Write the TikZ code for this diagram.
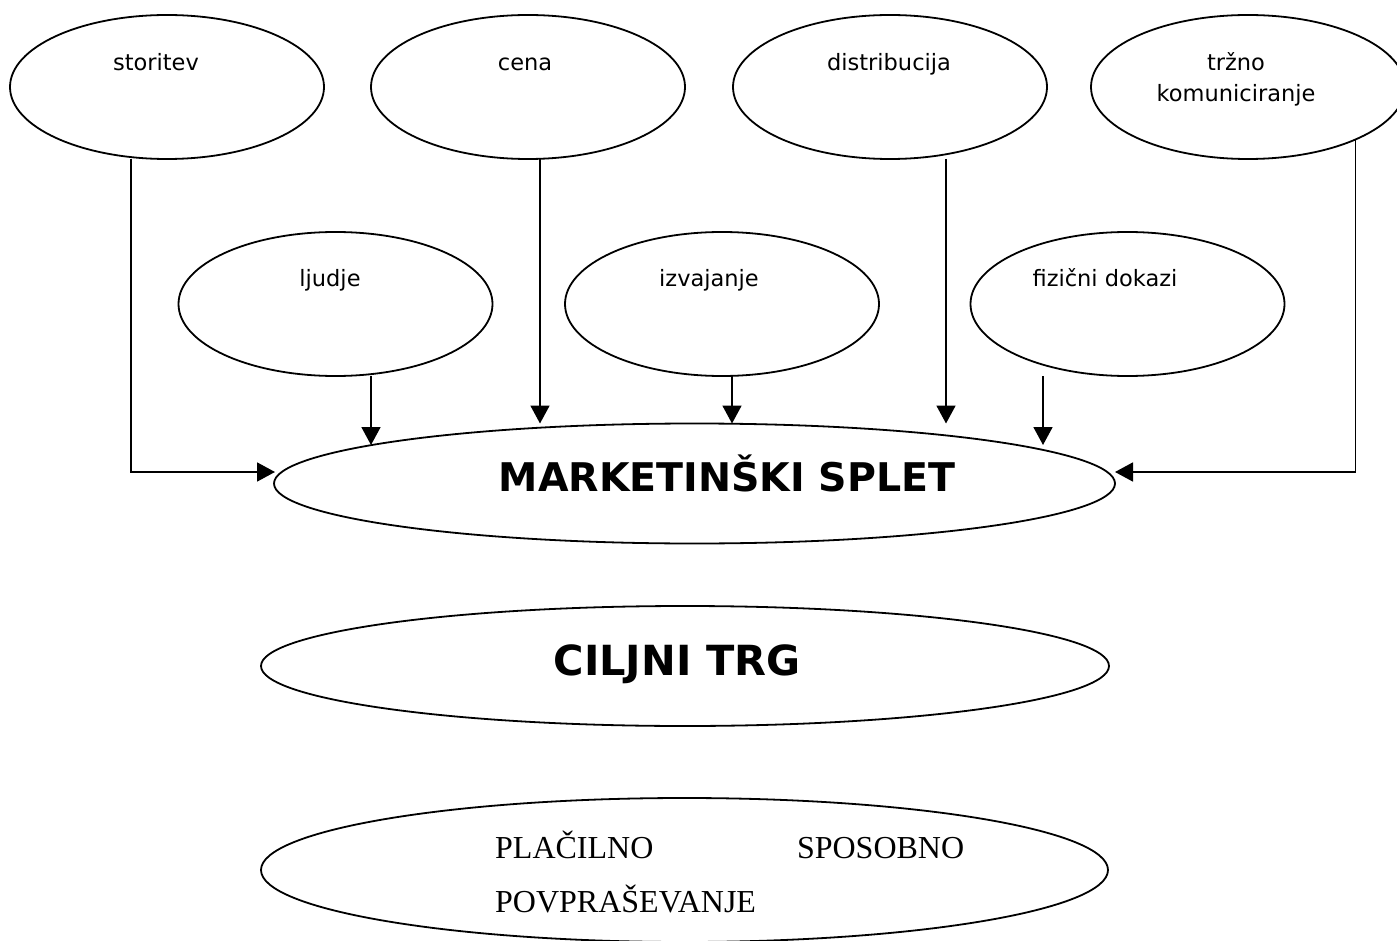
\documentclass[tikz,border=0pt]{standalone}
\usepackage{fontspec}
\usetikzlibrary{shapes.geometric,arrows.meta,calc}
\newfontfamily\labelfont{DejaVu Sans}
\newfontfamily\bodyfont{Liberation Serif}
\begin{document}
\begin{tikzpicture}[x=1pt,y=-1pt,
  oval/.style={ellipse,draw,line width=1.8pt,inner sep=0pt,outer sep=0pt},
  small/.style={oval,minimum width=314pt,minimum height=144pt},
  lab/.style={inner sep=0pt,anchor=base,font=\labelfont\fontsize{22.5}{31}\selectfont},
  big/.style={inner sep=0pt,anchor=base,font=\labelfont\bfseries\fontsize{39.5}{44}\selectfont},
  arr/.style={line width=1.8pt,-{Triangle[length=18pt,width=19pt]}}]
\fill[white] (0,0) rectangle (1397,941);
\useasboundingbox (0,0) rectangle (1397,941);

% four elements of the classic mix
\node[small] (storitev) at (167,87) {};
\node[small] (cena) at (528,87) {};
\node[small] (distribucija) at (890,87) {};
\node[small] (trzno) at (1248,87) {};
\node[lab] (storitevT) at (156,71) {storitev};
\node[lab] (cenaT) at (525,71) {cena};
\node[lab] (distribucijaT) at (889,71) {distribucija};
% multi-line node: base anchor sits on the last line
\node[lab,align=center] (trznoT) at (1236,102) {tržno\\komuniciranje};

% three service elements
\node[small] (ljudje) at (335.5,304) {};
\node[small] (izvajanje) at (722,304) {};
\node[small] (dokazi) at (1127.5,304) {};
\node[lab] (ljudjeT) at (330,287) {ljudje};
\node[lab] (izvajanjeT) at (709,287) {izvajanje};
\node[lab] (dokaziT) at (1105,287) {fizični dokazi};

% central ovals
\node[oval,minimum width=841pt,minimum height=120pt] (ms) at (694.5,483.5) {};
\node[big] (msT) at (727,491) {MARKETINŠKI SPLET};
\node[oval,minimum width=848pt,minimum height=120pt] (ct) at (685,666) {};
\node[big,font=\labelfont\bfseries\fontsize{41.5}{46}\selectfont] (ctT) at (677,675) {CILJNI TRG};
\node[oval,minimum width=847pt,minimum height=144pt] (pp) at (684.5,870) {};
\node[inner sep=0pt,anchor=base west,align=left,
      font=\bodyfont\fontsize{32}{54}\selectfont] (ppT) at (495,912)
  {\hbox to 469pt{PLAČILNO\hfill SPOSOBNO}\\POVPRAŠEVANJE};

% arrow ends on the marketing mix oval
\coordinate (msW) at ($(ms.center)+(-419.5,-11.5)$);
\coordinate (msE) at ($(ms.center)+(420.5,-11.5)$);
\coordinate (msA) at ($(ms.center)+(-323.5,-38.5)$);
\coordinate (msB) at ($(ms.center)+(348.5,-38.5)$);

% connectors
\draw[arr] ([xshift=-36pt]storitev.south) |- (msW);
\draw[arr] (trzno.334) |- (msE);
\draw[arr] ([xshift=12pt]cena.south) -- ([xshift=12pt]cena.south |- ms.north);
\draw[arr] ([xshift=56pt]distribucija.south) -- ([xshift=56pt]distribucija.south |- ms.north);
\draw[arr] ([xshift=10pt]izvajanje.south) -- ([xshift=10pt]izvajanje.south |- ms.north);
\draw[arr] ([xshift=35.5pt]ljudje.south) -- ([xshift=35.5pt]ljudje.south |- msA);
\draw[arr] ([xshift=-84.5pt]dokazi.south) -- ([xshift=-84.5pt]dokazi.south |- msB);
\end{tikzpicture}
\end{document}
